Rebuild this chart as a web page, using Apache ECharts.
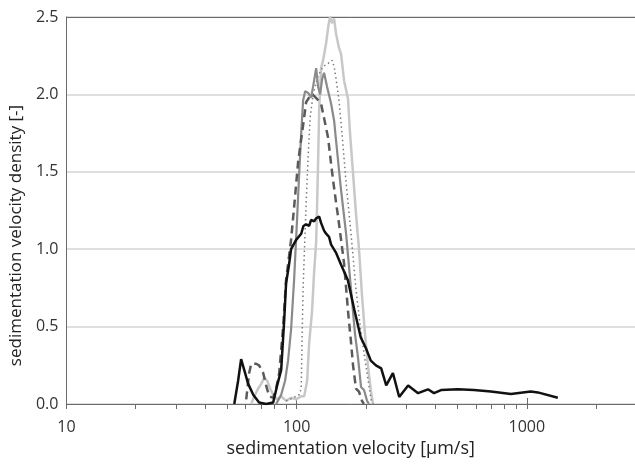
<!DOCTYPE html>
<html>
<head>
<meta charset="utf-8">
<script src="https://cdn.jsdelivr.net/npm/echarts@6/dist/echarts.min.js"></script>
<style>
  html, body { margin: 0; padding: 0; background: #fff; }
  #sedim { width: 635px; height: 465px; }
</style>
</head>
<body>
<div id="sedim"></div>
<script>
// ---- data: [velocity µm/s, density] ----
var curveBlack = [[53.6, 0], [55.7, 0.15], [57.4, 0.29], [59.2, 0.22], [61.6, 0.13], [64.8, 0.06], [68.7, 0.01],
    [73.7, 0], [79.1, 0.01], [82.3, 0.12], [85.7, 0.22], [88.3, 0.54], [90, 0.78], [92.7, 0.9], [94.6, 1.0],
    [99.5, 1.06], [104.7, 1.1], [107, 1.15], [110, 1.16], [113.3, 1.15], [115.6, 1.19], [119.1, 1.18],
    [121.6, 1.2], [125.3, 1.21], [127.7, 1.17], [131.6, 1.12], [134.3, 1.1], [138.3, 1.08], [141.2, 1.03],
    [148, 0.98], [156, 0.9], [167, 0.8], [178, 0.61], [190, 0.43], [200, 0.36], [210, 0.28], [221, 0.25],
    [233, 0.23], [237, 0.22], [245, 0.12], [262, 0.2], [279, 0.045], [305, 0.12], [337, 0.07], [372, 0.095],
    [395, 0.07], [424, 0.09], [502, 0.095], [589, 0.09], [698, 0.08], [853, 0.065], [1040, 0.08],
    [1116, 0.075], [1363, 0.04]];

var curveDashed = [[60.4, 0.03], [62.2, 0.2], [63.5, 0.26], [66.7, 0.26], [68.7, 0.25], [71.6, 0.2],
    [73.7, 0.12], [76, 0.05], [79.1, 0.04], [81.5, 0.1], [84, 0.2], [87.4, 0.5], [90, 0.8], [94.6, 1.06],
    [97.5, 1.27], [101.6, 1.57], [106.7, 1.8], [110, 1.95], [115.6, 2.0], [119.1, 1.99], [122.8, 1.97],
    [127.7, 1.94], [137, 1.72], [141.2, 1.55], [143.9, 1.45], [148.4, 1.3], [151.4, 1.21], [156, 1.06],
    [160.7, 0.91], [167.2, 0.6], [172.3, 0.4], [175.8, 0.25], [181.1, 0.1], [186.6, 0.08], [192.3, 0.02],
    [196, 0]];

var curveGrey = [[81.5, 0], [85.7, 0.06], [89.1, 0.15], [91.8, 0.28], [94.6, 0.48], [97.5, 0.8], [100.5, 1.2],
    [102.6, 1.49], [104.7, 1.75], [106.7, 1.96], [108.9, 2.02], [112.2, 2.01], [115.6, 1.98], [117.9, 2.05],
    [121.6, 2.17], [123.9, 2.05], [126.5, 2.0], [129.1, 2.1], [131.6, 2.14], [135.6, 2.05], [141.2, 1.94],
    [145.5, 1.83], [148.4, 1.7], [152.8, 1.51], [156, 1.38], [164, 1.1], [172.3, 0.74], [179.4, 0.45],
    [184.8, 0.3], [190.4, 0.11], [196.2, 0.09], [202.3, 0.02], [206.3, 0]];

var curveDotted = [[90, 0.02], [96.6, 0.04], [102.6, 0.06], [104.7, 0.1], [105.7, 0.45], [106.7, 0.75],
    [107.9, 0.95], [110, 1.3], [112.2, 1.6], [114.5, 1.85], [117.9, 2.0], [123.9, 2.12], [130.3, 2.18],
    [137, 2.2], [142.6, 2.22], [145.5, 2.18], [148.4, 2.1], [152.8, 1.96], [157.4, 1.75], [164, 1.43],
    [172.3, 1.1], [181.1, 0.74], [190.4, 0.46], [200.3, 0.24], [210.5, 0.03], [214.8, 0]];

var curveLight = [[63.5, 0], [65.5, 0.05], [68.1, 0.1], [70.2, 0.13], [72.3, 0.17], [74.5, 0.15], [76.7, 0.1],
    [79.1, 0.06], [82.3, 0.03], [85.7, 0.05], [90, 0.02], [94.6, 0.04], [99.5, 0.03], [104.7, 0.05],
    [107.9, 0.05], [111.1, 0.15], [113.3, 0.39], [116.7, 0.6], [119.1, 0.85], [121.6, 1.05], [122.8, 1.3],
    [123.9, 1.55], [125.3, 1.9], [127.7, 2.17], [130.3, 2.22], [134.3, 2.33], [137, 2.43], [139.6, 2.5],
    [142.6, 2.46], [145.5, 2.49], [148.4, 2.39], [152.8, 2.3], [156, 2.26], [160.7, 2.09], [167.2, 1.97],
    [170.6, 1.75], [175.8, 1.49], [181.1, 1.23], [186.6, 1.0], [192.3, 0.7], [198.2, 0.45], [204.3, 0.24],
    [210.5, 0.08], [214.8, 0]];

var majorTicks = [10, 100, 1000];
var minorTicks = [10, 20, 30, 40, 50, 60, 70, 80, 90, 100, 200, 300, 400, 500, 600, 700, 800, 900, 1000, 2000];

function renderSedimentation() {
    var dom = document.getElementById('sedim');
    var myChart = echarts.init(dom, null, { renderer: 'canvas' });
    var font = 'Open Sans';
    var axisGrey = '#6b6b6b';

    var option = {
        animation: false,
        backgroundColor: '#fff',
        grid: { left: 65, right: 0, top: 17, bottom: 61 },
        xAxis: [{
                type: 'log',
                logBase: 10,
                min: 10,
                max: 2950,
                position: 'bottom',
                name: 'sedimentation velocity [\u00b5m/s]',
                nameLocation: 'middle',
                nameGap: 30,
                nameTextStyle: { fontFamily: font, fontSize: 18, color: '#222' },
                axisLine: { show: true, lineStyle: { color: axisGrey, width: 1 } },
                axisTick: { show: true, inside: false, length: 5, customValues: minorTicks, lineStyle: { color: axisGrey } },
                axisLabel: {
                    customValues: majorTicks,
                    margin: 15,
                    fontFamily: font,
                    fontSize: 16,
                    color: '#333',
                    formatter: function (v) { return String(v); }
                },
                splitLine: { show: false },
                minorTick: { show: false }
            },
            {
                // major ticks crossing the axis line
                type: 'log',
                logBase: 10,
                min: 10,
                max: 2950,
                position: 'bottom',
                axisLine: { show: false },
                axisTick: { show: true, inside: true, length: 6, customValues: majorTicks, lineStyle: { color: axisGrey } },
                axisLabel: { show: false },
                splitLine: { show: false }
            },
            {
                // top frame line
                type: 'log',
                logBase: 10,
                min: 10,
                max: 2950,
                position: 'top',
                axisLine: { show: true, lineStyle: { color: axisGrey, width: 1 } },
                axisTick: { show: false },
                axisLabel: { show: false },
                splitLine: { show: false }
            }
        ],
        yAxis: {
            type: 'value',
            min: 0,
            max: 2.5,
            interval: 0.5,
            name: 'sedimentation velocity density [-]',
            nameLocation: 'middle',
            nameGap: 40,
            nameTextStyle: { fontFamily: font, fontSize: 17, color: '#222', padding: [0, 50, 0, 0] },
            axisLine: { show: true, lineStyle: { color: axisGrey, width: 1 } },
            axisTick: { show: false },
            axisLabel: {
                margin: 8,
                fontFamily: font,
                fontSize: 16,
                color: '#333',
                formatter: function (v) { return v.toFixed(1); }
            },
            splitLine: { show: true, lineStyle: { color: '#d4d4d4', width: 1.5 } }
        },
        series: [{
                name: 'light',
                type: 'line',
                showSymbol: false,
                data: curveLight,
                lineStyle: { color: '#c8c8c8', width: 2.5 }
            },
            {
                name: 'dotted',
                type: 'line',
                showSymbol: false,
                data: curveDotted,
                lineStyle: { color: '#7a7a7a', width: 1.5, type: [1.5, 3] }
            },
            {
                name: 'grey',
                type: 'line',
                showSymbol: false,
                data: curveGrey,
                lineStyle: { color: '#8a8a8a', width: 2.2 }
            },
            {
                name: 'dashed',
                type: 'line',
                showSymbol: false,
                data: curveDashed,
                lineStyle: { color: '#5a5a5a', width: 2.5, type: [8, 5] }
            },
            {
                name: 'black',
                type: 'line',
                showSymbol: false,
                data: curveBlack,
                lineStyle: { color: '#111', width: 2.5 }
            }
        ]
    };

    if (option && typeof option === 'object') {
        myChart.setOption(option);
    }
}
renderSedimentation();
</script>
</body>
</html>
